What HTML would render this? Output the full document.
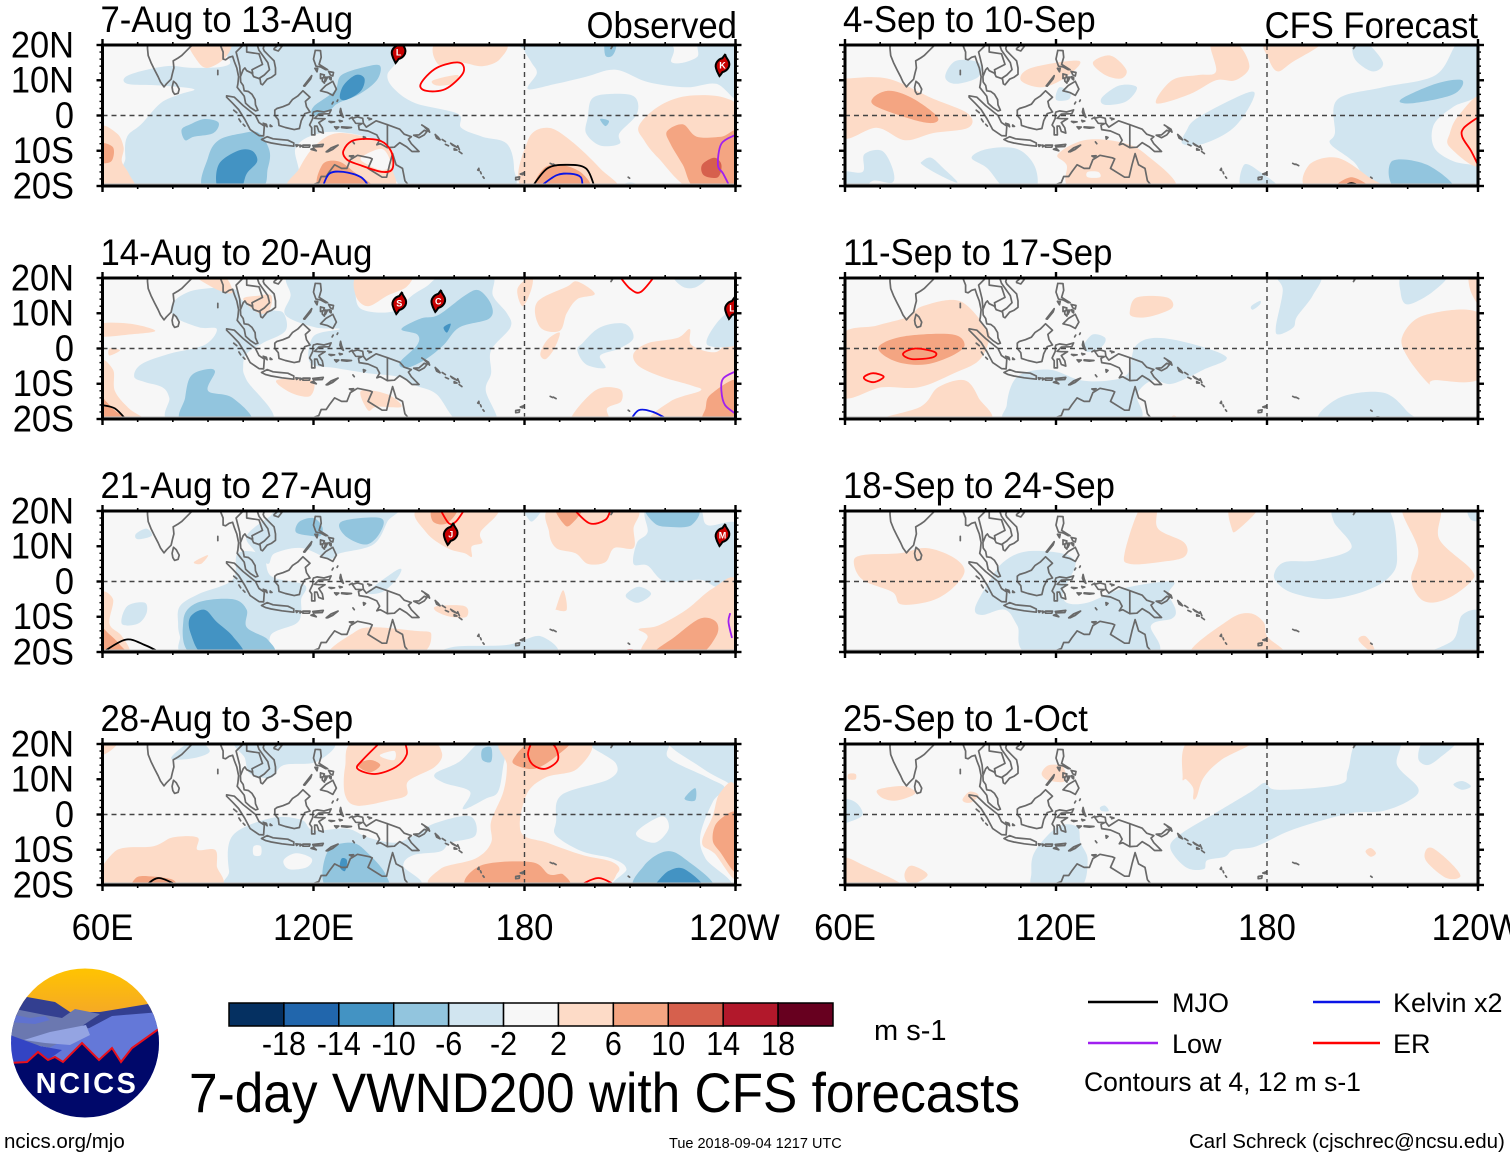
<!DOCTYPE html>
<html lang="en">
<head>
<meta charset="utf-8">
<title>7-day VWND200 with CFS forecasts</title>
<style>
html,body{margin:0;padding:0;background:#fff;width:1510px;height:1158px;overflow:hidden}
svg{display:block;font-family:"Liberation Sans",sans-serif}
</style>
</head>
<body>
<svg id="chart" xmlns="http://www.w3.org/2000/svg" width="1510" height="1158" viewBox="0 0 1510 1158">
  <rect x="0" y="0" width="1510" height="1158" fill="#fff"/>
  <g id="panels"></g>
  <g id="colorbar"></g>
  <text x="874" y="1040" font-size="29">m s-1</text>
  <text class="tall" x="189" y="1112" font-size="51.4">7-day VWND200 with CFS forecasts</text>
  <text x="4" y="1148" font-size="20.5">ncics.org/mjo</text>
  <text x="669" y="1148" font-size="14.5">Tue 2018-09-04 1217 UTC</text>
  <text x="1189" y="1148" font-size="20.5">Carl Schreck (cjschrec@ncsu.edu)</text>
  <g font-size="27">
    <line x1="1088" x2="1158" y1="1002" y2="1002" stroke="#000" stroke-width="2.4"/>
    <text x="1172" y="1012">MJO</text>
    <line x1="1313" x2="1380" y1="1002" y2="1002" stroke="#0a14e6" stroke-width="2.4"/>
    <text x="1393" y="1012">Kelvin x2</text>
    <line x1="1088" x2="1158" y1="1043" y2="1043" stroke="#a020f0" stroke-width="2.4"/>
    <text x="1172" y="1053">Low</text>
    <line x1="1313" x2="1380" y1="1043" y2="1043" stroke="#f00" stroke-width="2.4"/>
    <text x="1393" y="1053">ER</text>
    <text x="1084" y="1091" font-size="26.5">Contours at 4, 12 m s-1</text>
  </g>
  <g>
    <defs>
      <clipPath id="logoClip"><ellipse cx="85" cy="1043" rx="74" ry="74.5"/></clipPath>
      <linearGradient id="sun" x1="0" y1="0" x2="0" y2="1"><stop offset="0" stop-color="#ffc400"/><stop offset="1" stop-color="#f4a62a"/></linearGradient>
    </defs>
    <g clip-path="url(#logoClip)">
      <rect x="10" y="968" width="150" height="50" fill="url(#sun)"/>
      <path d="M10 1000 L27 997 L55 1002 L70 1012 L100 1012 L148 1004 L160 1003 L160 1040 L10 1040 Z" fill="#333f90"/>
      <path d="M10 1008 L45 1015 L62 1018 L75 1009 L100 1014 L82 1026 L100 1032 L60 1050 L10 1040 Z" fill="#6b78b0"/>
      <path d="M10 1014 L30 1018 L45 1016 L50 1020 L35 1024 L10 1022 Z" fill="#5f72d0"/>
      <path d="M78 1034 L112 1016 L160 1012 L160 1070 L20 1070 L40 1052 Z" fill="#6478d8"/>
      <path d="M24 1040 L50 1032 L86 1025 L90 1035 L70 1045 L45 1043 Z" fill="#94a4e2"/>
      <path d="M10 1035 L40 1046 L62 1050 L45 1062 L10 1066 Z" fill="#3344c4"/>
      <path d="M8 1063 L27 1062 L38 1052 L48 1060 L55 1057 L63 1062 L82 1043 L99 1060 L112 1048 L121 1062 L132 1048 L160 1028 L160 1120 L8 1120 Z" fill="#00086a"/>
      <path d="M8 1063 L27 1062 L38 1052 L48 1060 L55 1057 L63 1062 L82 1043 L99 1060 L112 1048 L121 1062 L132 1048 L160 1028" fill="none" stroke="#e8101c" stroke-width="2"/>
      <text x="87" y="1093" font-size="29" font-weight="bold" fill="#fff" text-anchor="middle" letter-spacing="2.5">NCICS</text>
    </g>
  </g>
</svg>
<script>
// Colour fill class values (m/s bins)
const levelValues = [-5,-4,-3,-2,-1,0,1,2,3,4,5];
const levelColors = ['#053061','#2166ac','#4393c3','#92c5de','#d1e5f0','#f7f7f7','#fddbc7','#f4a582','#d6604d','#b2182b','#67001f'];
const colorbarTicks = ['-18','-14','-10','-6','-2','2','6','10','14','18'];
const lonTickValues = [60,120,180,240];
const lonTickLabels = ['60E','120E','180','120W'];
const latTickValues = [20,10,0,-10,-20];
const latTickLabels = ['20N','10N','0','10S','20S'];
const panelTitles = ['7-Aug to 13-Aug','14-Aug to 20-Aug','21-Aug to 27-Aug','28-Aug to 3-Sep','4-Sep to 10-Sep','11-Sep to 17-Sep','18-Sep to 24-Sep','25-Sep to 1-Oct'];
const contourColors = {mjo:'#000',kelvin:'#0a14e6',low:'#a020f0',er:'#f00'};

// Filled anomaly regions per panel: [level, [lon,lat, lon,lat, ...]]
const fieldsAug07 = [
[-1,[98,21,142,21,144,16,141,11.5,143,7.5,149,3.5,161,.5,162,-3.5,168,-6,175,-8,177,-15,175,-21,148,-21,142,-15,142,-10,138,-7,130,-5,122,-5,115,-9,112,-21,68,-21,66.5,-12,67,-6,71,-2.5,76.5,3.5,82,6,86,7.5,76.5,8.5,67,9,67.5,11.5,78,14,86,13.5,96,14.5]],
[-1,[181,7.5,183.5,12,182,15,180,18.5,181,21,219,21,222,15,229,16.5,230,21,241,21,241,5,234.5,9,226,8,215,9.5,206,13,197.5,11,189,9]],
[-1,[199,4.5,203,6,211,5.5,212,.5,207,-5,207,-8,201.5,-8.5,197.5,-5,198,-.5]],
[-1,[206,-21,210,-19,215,-21]],
[-2,[201.5,-1,204,-1.5,203,-3]],
[-2,[203,21,206,20,205,17,203,17]],
[-2,[135.5,14,139,14,138,10,133,6,127,3.5,124.5,1.5,120,0,120,2.5,126,7,128,11.5]],
[-3,[132,11.5,134.5,10.5,133.5,7,129.5,4.5,127.5,5,128.5,8.5]],
[-2,[82.5,-4,85,-2.5,89,-1,93,-2,91.5,-5,86,-6,83.5,-7]],
[-2,[89,-21,90,-12,93,-7,100,-5,104.5,-5,107.5,-10,107,-15,104.5,-21]],
[-3,[93,-14,98.5,-10,102.5,-10,104,-13,101,-16.5,99,-21,93,-21]],
[1,[59,-4,64,-5,66,-9,65.5,-13,67.5,-16.5,69,-21,59,-21]],
[2,[59,-8,63,-9,62.5,-13,59,-13]],
[1,[85,21,96,21,95,16.5,90,13.5,87,15.5]],
[1,[155.5,21,174,21,173,16,168,14,162,15,155.5,14.5]],
[1,[154,10,161,11.5,159.5,9,155,8.5]],
[1,[114,-21,116,-15,120.5,-8.5,127,-5,138,-7,142.5,-10,142.5,-15,141,-21]],
[0,[133.5,-12,139.5,-9.5,142,-14,139.5,-15.5,135.5,-14]],
[2,[122,-21,122.5,-14,127,-13,131.5,-16,137,-21]],
[1,[180,-21,181,-7,186.5,-3.5,193,-7,201.5,-15,205.5,-21]],
[2,[183.5,-21,185.5,-15,190.5,-14,196.5,-16.5,198,-21]],
[1,[212.5,-3,218,2.5,226,5.5,237,5,241,0,241,-21,227.5,-21,218,-12,214,-7]],
[2,[220.5,-4.5,225,-2.5,229,-6,236,-6,241,-5,241,-21,229,-21,225,-14,221.5,-8]],
[3,[230.5,-14,234,-12,236,-14,235,-17.5,231,-17]]
];
const fieldsAug14 = [
[-1,[113.5,21,133,21,132,15,134,11,142.5,10.5,148,15,152,17.5,157.5,21,170.5,21,171,15,175,10,176,6,170.5,-.5,170.5,-7,169,-12,172,-21,161.5,-21,155,-13,149,-10.5,144,-8,135.5,-7,126,-5.5,119,-4,120,3.5,127.5,5.5,120.5,6,112,9.5,113.5,15]],
[-1,[69,-8,71,-4.5,79,-1.5,89,1,92.5,5.5,87.5,6,80.5,9,80,13,86,16.5,97,17,100,13.5,108,11,111.5,10,112,5,105.5,1.5,101,-1.5,100,-5,101,-9,108,-21,80,-21,79,-14,77,-11,72,-9.5]],
[1,[133,21,147,21,146.5,17.5,141,15,135.5,12,132,15]],
[1,[100,14,104.5,15,108,15,107.5,11,104.5,10]],
[1,[86,21,94,21,97,16,93,16.5]],
[1,[59.5,7,68,7,75,5,68,4,59,3.5]],
[1,[62,0,65,-.5,62,-2]],
[1,[59,-4,63,-6,63.5,-12,67.5,-17,72.5,-21,59,-21]],
[2,[59,-13,61,-15,64,-18,69,-21,59,-21]],
[1,[109.5,-9,119.5,-9,119,-13.5,113.5,-12.5]],
[1,[133.5,-12,141,-13,145,-16.5,138,-16.5,135.5,-17.5]],
[1,[137,-21,140,-19.5,146,-21]],
[1,[178,17,182,20.5,182,17,179.5,12]],
[1,[183.5,13,192,17.5,195,19,200,15.5,195,14,192,10,190,5,184.5,6]],
[1,[190,4.5,188.5,0,186,-3,184.5,-1.5,186.5,2.5]],
[1,[211,-1.5,215,1.5,223.5,3,227,5.5,227.5,1,234.5,-1,238.5,3.5,241,2.5,241,-21,216.5,-21,221.5,-15,230,-12,227.5,-10.5,219,-8,212.5,-5]],
[1,[193,-21,200,-12,207,-11.5,207.5,-15,203.5,-17,203.5,-21]],
[-1,[232,1,234.5,7,239,10,241,1.5]],
[-1,[196.5,1.5,201.5,6,208.5,7,211,3,207,0,201.5,-2,203,-5.5,197.5,-4.5,195,-.5]],
[2,[231.5,-17,233,-13,241,-9,241,-21,231,-21]],
[-1,[222.5,21,232,21,229,17.5,225,17.5]],
[-2,[145,5.5,150.5,8.5,155.5,9.5,163,15,167,16.5,170.5,12.5,170,8.5,161.5,6,157,1,152,-3,146.5,-5.5,144.5,-4,149.5,1,149.5,4]],
[-3,[157,6,159,7,158,4.5]],
[-2,[83,-21,83.5,-14,85,-8,89,-6,92,-6.5,90,-12,97,-14,102,-21]]
];
const fieldsAug21 = [
[-1,[113.5,21,142.5,21,141,17,137,10.5,127.5,8,124.5,6.5,116.5,9.5,109,8,107,5,103,9,101,13,107,18]],
[-1,[81.5,-12,82,-7,87.5,-3.5,97,.5,98.5,8,105.5,7.5,108,1.5,117.5,-1,116.5,-5,116.5,-9,115,-12,108,-15,108,-20.5,108,-21,84,-21,82,-15.5]],
[-1,[65.5,-12,67,-7,72,-6,72.5,-9,70,-12]],
[-1,[69.5,13.5,72.5,15,74,13,70,12]],
[-1,[211,5,212,11,215,14,215,21,229,21,232,16,241,16,241,1,235,-1.5,230,.5,220,0,215,4.5]],
[-1,[209,-3.5,212.5,-1.5,216,-3.5,212.5,-6,209.5,-5]],
[-1,[135.5,-3,142.5,2.5,145,3.5,143.5,.5,139.5,-3]],
[-1,[157.5,-21,160,-18.5,175,-18,184.5,-15.5,188,-21]],
[-1,[180,21,185,21,182,17]],
[-2,[115,14,116,17,120,18,122.5,15.5,122,13,119,13]],
[-2,[128,17,139,18,139,14,135,10.5,129,13]],
[-2,[215,21,229,21,227.5,16,221,15.5,217,16.5]],
[-2,[83,-11,87,-6,97,-5,101,-8,101,-13,107,-16.5,107.5,-21,86,-21]],
[-3,[85,-10,89,-8,92.5,-11.5,97,-15.5,100,-21,89,-21,85,-14.5]],
[1,[150,20.5,172,21,167.5,14,168,11,165,10,165,7,163,8,158,9.5,152,14]],
[2,[154,21,161,21,158,16.5,154,17]],
[1,[188,21,211,21,211,15,211,9.5,205.5,9.5,203,5.5,198,5,194.5,8,189,9.5,187,14]],
[2,[189,21,196.5,21,193,16,191,16.5]],
[1,[212.5,-13.5,218,-12.5,226,-8,233.5,-2,240.5,0,241,-21,215,-21,215,-15.5]],
[2,[216.5,-21,223,-15.5,230,-10.5,234.5,-11.5,234.5,-15.5,229,-21]],
[1,[59,-4,63,-5,62,-12,65.5,-15.5,67.5,-20.5,59,-21]],
[2,[59,-13,62,-15,65,-18,67,-21,59,-21]],
[1,[125,-21,131.5,-14.5,137,-13,149,-14,153.5,-15,149,-21]],
[1,[155,-7,163,-7,163.5,-10,159,-10,155,-8.5]],
[1,[189,-7.5,191,-2.5,192,-8,189,-8]],
[1,[86,5.5,90,7.5,88,5]]
];
const fieldsAug28 = [
[-1,[96,-16,97,-6,108,-1,116.5,-1.5,120,-4.5,129.5,-4,135.5,-6.5,143,-8,148.5,-6,154.5,-2.5,164.5,-.5,166,-6,159,-8,156,-10.5,148.5,-11.5,145.5,-14.5,148,-21,99,-21]],
[0,[103,-9,105,-9,105,-11.5,103,-11.5]],
[0,[111.5,-13,115,-11,119.5,-12.5,118,-15,113,-15.5]],
[-1,[99,21,125,21,121,15,111.5,14,108,10.5,102,11.5,100.5,16]],
[-1,[86,21,90.5,18,86,16,79.5,16]],
[-1,[154.5,11.5,161.5,15,167.5,20.5,175,21,174,14,172.5,6.5,169,4.5,162.5,1.5,164.5,6.5,157,9]],
[-1,[189,-2,190.5,5.5,204,10,206,14.5,198,21,219.5,21,221,16,232,10.5,237,7.5,233.5,3.5,230,-6,231.5,-12.5,238,-21,206.5,-21,209,-15.5,205,-12.5,196.5,-10.5,189,-6]],
[-1,[221,21,241,21,241,8,237,9.5,230,13.5]],
[0,[211.7,-5.3,219,-.5,221,-4,217,-8]],
[-2,[124,-10.5,131,-8,136,-11.5,140.5,-17,140,-21,124,-21]],
[-3,[128,-12.5,129.5,-13,129,-16,127.5,-15]],
[-2,[168,18.5,170.5,19,170.5,15,168,15.5]],
[-2,[212,-21,214,-14.5,220,-10.5,225.5,-12.5,233.5,-21]],
[-3,[217,-20,221,-16,225.5,-15.5,230.5,-21,216,-21]],
[-2,[225.5,4.5,228.5,7.5,228.5,4]],
[1,[132,21,152,21,156.5,17.5,154.5,13.5,147,9.5,146.5,5.5,141.5,4,132.5,2.5,129,5.5,129,13.5]],
[2,[132.5,14,136,15.5,139,14,136,12]],
[0,[139,17,143,18,143,15.5,140,16]],
[1,[174,21,198,21,195,13,186,10.5,180.5,5.5,179,-5,186.5,-8,196.5,-11.5,205,-13.5,206.5,-16.5,198,-21,156,-21,156,-15.5,166,-12.5,170.5,-8,170.5,-2,174,6.5,175,14]],
[2,[177,16,182,20.5,193,21,189,16.5,183,13,177.5,14]],
[2,[164.5,-21,167.5,-14.5,182,-13.5,187,-17,191,-17,191,-21]],
[1,[60.5,-21,63.5,-10.5,74.5,-9,80,-6.5,87,-6.5,87,-10,92,-10,92.5,-14.5,92,-21]],
[2,[69.5,-18,73,-17.5,80,-18.5,80,-21,69,-21]],
[1,[230.5,-8,233.5,-.5,235.5,6,240,7.5,241,-18,234,-11]],
[2,[233.5,-7,235,-2,241,0,241,-16.5,235.5,-10.5]],
[1,[59,21,64,20,60,17]]
];
const fieldsSep04 = [
[1,[60,10.5,72,10.5,84.5,5,95,.5,95,-3.5,85,-5,77,-7,69,-3.5,59,-6,59,10.5]],
[2,[68,5,72.5,7,79,5,86,0,85.5,-2,80.5,-1.5,69,2.5]],
[-1,[88.5,11,91.5,15.5,98,15,98,11,91.5,9]],
[1,[110,10,113,13.5,126.5,15.5,123,11,116,8]],
[-1,[120,4.5,121,8,124,6.5,123.5,4.5]],
[1,[130.5,15,135.5,17,140,13,138.5,10.5,134,11.5]],
[-1,[133,5,138,8.5,143,8,140,4,134,3]],
[1,[148.5,3.5,153,10,160.5,11.5,165.5,12.5,164,21,171,21,175,14,171,10,165.5,10,158,6]],
[1,[180,21,195.5,21,187,15,183,12.5,180.5,16]],
[-1,[157,-4.5,160.5,-.5,174.5,6.5,176,4.5,170.5,-3.5,162,-8,156,-8]],
[-1,[204.5,21,208,21,213,15,210,12.5,205,16]],
[-1,[199.3,-5,200,4.5,213,8,228,11.5,234.5,21,241,21,241,7,233,2.5,227.5,-2.5,227.5,-9,233,-13,241,-15,241,-21,213,-21,204.5,-13,198,-8]],
[-2,[218,4.5,228,9,235.5,10,233,6,221.5,3.5]],
[-2,[215.5,-13,225.5,-14,233,-21,217,-21]],
[1,[232,-5,234.5,0,241,5,241,-14,232,-9]],
[1,[192,-21,192,-14,200,-12,209,-17.5,213,-21]],
[2,[199,-21,204,-17.5,209.5,-21]],
[1,[120.5,-11,128,-7,138,-7.5,145.5,-11,153.5,-21,125.5,-21,123,-14]],
[0,[129,-16,132,-16,132.5,-17.5,129,-17.5]],
[-1,[96,-12,100.5,-9.5,109,-9.5,114,-14.5,114,-21,106,-21,100.5,-15]],
[-1,[59,-16,65,-16,65.5,-11,70.5,-10,73.5,-15,73.5,-19,68,-18.5,65,-21,59,-21]],
[-1,[82,-13,84.5,-12,88,-15,92,-19,87,-17,82,-14]],
[-1,[173,-21,173.5,-14,178,-16,183.5,-21]]
];
const fieldsSep11 = [
[1,[59,3.5,69,6.5,78,9,82,12,92.5,13.5,100,6,101,2.5,98,-3.5,91,-7,81,-11,70.5,-11,59,-13.5]],
[2,[70,1,77,3.5,90.5,4,94,1,90.5,-2,83,-4.5,75.5,-4,70.5,-1.5]],
[1,[68.5,-21,81.5,-16.5,86.5,-11,94,-9,98,-14,100,-21]],
[1,[141,10.5,143,14.5,151.5,14.5,153,11.5,146.5,9,142,9]],
[1,[218.5,3.5,225,9.5,241,9.5,241,-8,227.5,-9,226,-10,220,-2.5]],
[1,[237.5,21,241,21,241,12,238,16]],
[1,[152,-21,153.5,-19,156,-21]],
[-1,[182.5,6,184.5,16.5,183,21,195,21,193,15,188.5,9,187.5,6,183.5,4]],
[-1,[175.5,12,178,13.5,178,12.5,176,11]],
[-1,[218,16,219,21,231,21,227,16,220,12.5]],
[-1,[128,1,130.5,4,134,3,133,.5,129,-1]],
[-1,[142.5,.5,148,3,158,1.5,168.5,-2.5,162,-6,153,-10,147.5,-9,143,-13,142,-21,108,-21,106,-16,109,-8,118,-6,127,-9,135.5,-9,140.5,-7]],
[-1,[195.5,-21,200.5,-14,213,-12.5,220,-18,221,-21]]
];
const fieldsSep18 = [
[1,[62.5,5.5,65,7.5,75.5,8,83,9.5,90.5,7,94,3,90.5,-2,84.5,-5.5,76,-6.5,73.5,-3,65,.5]],
[1,[139.5,8,144,21,148.5,21,149,15,156.5,11,156.5,7,149.5,5.5,141,5]],
[1,[169.5,21,177.5,21,171.5,14.5,170,15]],
[1,[218.5,21,229,21,229,12,238,3.5,238,0,231,-5,224.5,-5.5,221,.5,223,9]],
[1,[158.5,-21,169,-11,175,-9,179,-11.5,180,-15.5,184,-21]],
[1,[206,-16.5,208,-15.5,210.5,-19,209,-19.5]],
[-1,[97,-7.5,101,0,105,5.5,111.5,8.5,121.5,8,125.5,5.5,124,1,122,-2.5,123,-6,129,-6,139,-2,153,0,152,-3.5,154,-8,153,-10.5,147,-12.5,147.5,-21,113.5,-21,109,-12.5,105.5,-8,99,-9.5]],
[-1,[182,2,185,5.5,194,6,204,9.5,199,17,200,21,214,21,217,7,214.5,1,207,-3,197,-5,188,-3.5,183.5,-1]],
[-1,[225,-21,233,-16.5,235.5,-9.5,241,-9,241,-21]],
[-1,[237,21,241,21,241,17.5,238,17.5]]
];
const fieldsSep25 = [
[1,[156,10.5,158,21,176,21,167,15.5,162,10.5,160,5,159,4.5,159,7.5,157,10]],
[1,[116,12,118,14,122,13.5,122.5,9.5,118.5,9.5,116.5,10.5]],
[1,[69,6.5,71,7.5,77,8,80,6,75,4,71,4.5]],
[1,[61,11.5,63,11.5,63,10,61,10]],
[1,[93.5,4.5,95.5,6.5,98,5.5,96,3.5,94,3.5]],
[1,[59,-12.5,65.5,-14.5,77,-21,59,-21]],
[1,[77,-16.5,79,-14.5,83.5,-17,80,-19.5,77.5,-19]],
[1,[208,-10.5,209.5,-9.5,211,-11,209.5,-12]],
[1,[225,-10.5,227,-9.5,232,-13.5,235,-17.5,231,-18,225.5,-13.5]],
[-1,[152.5,-9.5,155.5,-5.5,165.5,.5,175.5,6.5,179.5,9,183,7,200.5,8.5,203,12.5,206,21,217.5,21,217,14,223,7.5,220.5,4,213,1,204.5,.5,194.5,-2,185.5,-5,177,-9,170.5,-10,168,-12,163,-13,162,-15.5,157,-15]],
[-1,[223,16,225,21,234,21,229,16,225.5,14]],
[-1,[233,8.5,235.5,9.5,238,8,235.5,7]],
[-1,[59,4,63,3.5,65,0,61.5,-2,59,-2]],
[-1,[132.5,2,134,2.5,135,1,133,1]],
[-1,[113,-16.5,114,-10.5,120.5,-3.5,126,-3.5,127,-8,129,-13,126.5,-21,114,-21]]
];

// Wave contours per panel: [wave type, closed?, [lon,lat, ...]]
const contoursAug07 = [
['er',true,[150.5,9,155,13.5,161.5,15,162.5,12,157.5,7.5,152,7]],
['er',true,[128.5,-10,131.5,-7,138.5,-7,142,-10,142.5,-15,139.5,-16,133,-14,129.5,-12.5]],
['kelvin',false,[122.5,-20.5,124.5,-16.5,128.5,-16,133.5,-17.5,136,-20.5]],
['mjo',false,[182,-20.5,186.5,-15,192,-14,197.5,-15,200,-20.5]],
['kelvin',false,[184,-20.5,189,-17,193,-16.5,196,-17.5,196.5,-20.5]],
['low',false,[240,-5.5,236,-8,235,-14,236.5,-16.5,238.5,-20.5]]
];
const contoursAug14 = [
['mjo',false,[59.5,-16,63.5,-17,67,-20.5]],
['er',false,[207,20.5,210,17,213,16,217,20.5]],
['kelvin',false,[210,-20.5,212.5,-17.5,216.5,-18,221.5,-20.5]],
['low',false,[240,-6.5,236.5,-8.5,236,-12,237,-16,240,-18.5]]
];
const contoursAug21 = [
['er',false,[156,20.5,158.5,16.5,160.5,17,163,20.5]],
['er',false,[194,20.5,198.5,16.5,203,17.5,204.5,20.5]],
['er',false,[205.5,-20.5,210,-19.5,215,-20.5]],
['mjo',false,[59.5,-20.5,66.5,-16.5,72,-18,77,-20.5]],
['low',false,[238.5,-9,238,-11.5,239,-16]]
];
const contoursAug28 = [
['er',false,[139,20.5,134,15.5,132.5,13,137.5,11.5,143.5,13.5,146.5,17,146,20.5]],
['er',false,[182,20.5,181,17,182.5,14,186,13,189.5,15.5,188.5,19.5,185.5,20.5]],
['er',false,[195,-20.5,201,-18,206.5,-20.5]],
['mjo',false,[72,-20.5,76,-18,82,-20.5]]
];
const contoursSep04 = [
['mjo',false,[201,-20.5,204,-19.2,207.5,-20.5]],
['er',false,[240,-.5,236,-3.5,235.5,-6,238,-10,240,-14]]
];
const contoursSep11 = [
['er',true,[76.5,-1.5,80,0,85.5,-1,85,-2.5,79,-3]],
['er',true,[65.5,-8,68,-7,71,-8,68.5,-9.5,66,-9]],
['mjo',false,[208.5,-20.5,211.5,-19.5,214.5,-20.5]]
];
const contoursSep18 = [];
const contoursSep25 = [];

// Tropical cyclones per panel: [letter, lon, lat]
const stormsAug07 = [['L',144.2,18],['K',236.3,14.3]];
const stormsAug14 = [['S',144.4,12.9],['C',155.5,13.5],['L',239,11.5]];
const stormsAug21 = [['J',159,13.5],['M',236.3,13.2]];

// Coastlines and borders (lon,lat polylines)
const coastlines = [
[72.8,20,72.8,19,73,17,73.8,15,74.8,13,75.8,11,76.5,9.5,77.5,8.1,78.2,9,79.5,10.3,79.9,12,80.3,13.5,80.1,15.5,81.5,16.3,82.5,17,84,18.5,85.5,20],
[79.8,8,80.2,9.7,81,9,81.8,7.5,81.5,6.3,80.5,6,80,6.8,79.8,8],
[93.5,20,94.3,18,94.3,16,95,15.8,96,16.5,97,16.8,97.6,15,98.2,13.5,98.7,11,98.5,9,98.3,8,99.5,6.5,100.3,5.5,100.7,3.5,102,2.3,103.5,1.3,104.2,1.5,103.5,3,103.4,4.5,102.5,6,101.5,6.8,100.3,7,100,8.5,99.3,9.5,99.2,11,100,13,100.5,13.5,101,12.7,102.5,12,103,11,104.8,10.4,105,9,105.5,8.7,106.8,10.3,108,10.8,109.2,11.7,109.2,13.5,108.8,15.5,107.5,16.8,106,18.3,105.7,19,106,20],
[100,20,98,18,98.5,16,99,14,99.2,11.5],
[101,20,101,18,104.5,17.5,105.5,14.5,102.5,13,102.7,12],
[104,20,104.5,18.5,107,15,107.5,13,106,11.5,104.5,10.5],
[108.8,19,110,20,111,19.6,110,18.3,108.8,18.7,108.8,19],
[92.8,12.8,92.8,11.6],
[95.3,5.6,97.5,5.2,100,2.8,103.5,0,104.5,-2,106,-3,105.8,-5.8,104.5,-5.7,102,-4,100.4,-1,98.7,1.7,97,3.5,95.3,5.2,95.3,5.6],
[97.3,1.5,98.2,.8],[98.8,-1,99.3,-1.8],[100,-2.5,100.5,-3],
[105.7,-2.2,106.6,-2.5,106.8,-3.2,105.7,-2.2],[107.7,-2.7,108.2,-3.1,107.7,-3.1,107.7,-2.7],
[105.2,-6.8,106.8,-6,108.5,-6.6,110.5,-6.8,112.7,-7,114.4,-7.8,114.4,-8.7,111,-8.3,108,-7.8,106.4,-7.4,105.2,-6.8],
[115,-8.3,115.7,-8.4,115.2,-8.8,115,-8.3],[116.1,-8.4,116.7,-8.6,116.2,-8.9,116.1,-8.4],
[117,-8.4,119,-8.4,118.8,-9,117,-9,117,-8.4],
[119.8,-8.5,122.8,-8.2,122.5,-8.8,120,-8.9,119.8,-8.5],
[119.3,-9.6,120.8,-10,120,-9.3,119.3,-9.6],
[123.6,-10.3,125,-9.2,127,-8.4,125.5,-9.6,124,-10.3,123.6,-10.3],
[109,1.5,109.6,2,111.3,2.5,113,3.2,114,4.5,115.5,5.5,117,7,119,5.2,117.7,4,118,2.5,119,1,117.5,.5,116.5,-1.5,116,-3.7,114.5,-4,112,-3.4,110.2,-2.8,110,-1.2,109,0,109,1.5],
[120,1,121,1.3,123,1,125,1.6,124.5,.5,121.5,.4,120.3,-.8,121.5,-.9,123.3,-.9,122,-1.7,121.5,-2,122.5,-3.5,122.8,-5,121.5,-4.5,121,-3,120.3,-3,120.4,-5.5,119.5,-5.5,119.5,-3.5,118.9,-2.7,119.8,-.8,119.8,.5,120,1],
[127.7,2,128,.8,128.5,-.5,127.9,0,127.5,1,127.7,2],
[128,-3.2,130.8,-3.4,129.5,-3.6,128,-3.4,128,-3.2],[126,-3.2,127.2,-3.3,126.5,-3.8,126,-3.2],
[127.3,-1.4,128.2,-1.6,127.5,-1.8,127.3,-1.4],[124.4,-1.7,126,-1.8,125,-2,124.4,-1.7],
[134.2,-6,134.8,-6.2,134.3,-6.7,134.2,-6],[131.2,-7.5,131.6,-8],
[125.3,3.3,125.6,3.8],[126.7,4,126.9,4.4],
[131,-.8,132.5,-.4,134,-.8,134.2,-2.2,135,-3.3,137.8,-1.5,141,-2.6,144.5,-3.9,145.8,-5.3,147.8,-6,147,-6.7,147.8,-8,150,-10.2,148,-10.2,146.5,-8.9,144.5,-7.7,143,-9,141,-9.1,139,-8,138,-8.3,138.8,-7,138,-5.5,135.5,-4.4,133,-4,132.8,-2.8,133.8,-2.3,132,-2.2,131,-.8],
[141,-2.6,141,-9.1],
[135.4,-.7,136.5,-1,135.8,-1.2],[130.2,-.9,131,-.5],
[148.5,-5.6,150,-5.5,151.5,-4.2,152.3,-4.5,151.5,-5.5,150,-6.3,148.5,-5.6],
[150.8,-2.7,152.7,-3.9,153,-4.7,151.5,-3.2],
[154.6,-5.4,155.5,-6.2,156,-6.9,155,-6.4,154.6,-5.4],
[156.6,-6.8,157.5,-7.4],[157.5,-8.2,158.4,-8.6],[159,-7.9,160.8,-9,159.5,-8.4,159,-7.9],[160,-9.4,160.8,-9.8,160,-9.8,160,-9.4],[161,-8.6,161.5,-9.7],[161.4,-10.2,162.2,-10.8],
[167,-15,167.1,-15.6,166.7,-15.5,167,-15],[167.5,-16,167.7,-16.5],[168.2,-17.4,168.5,-17.8],
[177.5,-17.6,178.6,-17.4,178.5,-18.1,177.5,-18.2,177.5,-17.6],[178.8,-16.6,179.9,-16.2,179.5,-16.8,178.8,-16.6],
[187.3,-13.6,188,-13.9],[189,-14.2,188.2,-13.8],
[204.5,19.8,205,19.6,204.6,19],[209.5,-17.5,209.9,-17.8],
[120.5,18.5,122,18.4,122.2,16.5,121.6,14.5,124,13,123.5,13,122,13.8,120.7,14,120,16,120.5,18.5],
[120.4,13.4,121.2,13.4,121,12.4,120.4,13.4],
[117.2,8.4,119.5,11.3,119.2,10.4,117.5,8.3,117.2,8.4],
[124.3,12.5,125.7,12.2,125.5,11.2,124.8,11.5,124.3,12.5],[124.4,11,125,10.8,125,10.1,124.6,10.4,124.4,11],
[122,11.8,123.1,11.5,122.8,10.7,122,10.5,122,11.8],[122.5,10.6,123.4,10.9,123.1,9.2,122.5,9.8,122.5,10.6],[123.5,10.8,124,10.9,123.4,9.7],
[122,7,123.5,8.5,125.5,9.7,126.5,7.5,125.5,5.7,124,6.5,122,7],
[118.8,-20,121.5,-19,122.2,-17.3,123.6,-17.3,124.5,-16,126,-14,128,-15,129.5,-15,130.5,-12.5,132.5,-11.3,136,-12,136.7,-12.3,135.5,-15,139.5,-17.5,140.8,-17.5,141.6,-14,142.5,-10.8,143.5,-14,145.3,-15,146,-18.5,147.2,-20],
[130.2,-11.5,131.4,-11.4,130.8,-11.8,130.2,-11.5]
];

const fieldsByPanel = [fieldsAug07,fieldsAug14,fieldsAug21,fieldsAug28,fieldsSep04,fieldsSep11,fieldsSep18,fieldsSep25];
const contoursByPanel = [contoursAug07,contoursAug14,contoursAug21,contoursAug28,contoursSep04,contoursSep11,contoursSep18,contoursSep25];
const stormsByPanel = [stormsAug07,stormsAug14,stormsAug21,[],[],[],[],[]];

const SVGNS = 'http://www.w3.org/2000/svg';
const PLOT_W = 633, PLOT_H = 141;
const tops = [45,278,511,744];
const lefts = [102.5,845];

function xScale(lon,left){ return left + (lon-60)/180*PLOT_W; }
function yScale(lat,top){ return top + (20-lat)/40*PLOT_H; }

function mk(tag,parent,attrs){
  const el = document.createElementNS(SVGNS,tag);
  for(const k in attrs){ el.setAttribute(k,attrs[k]); }
  parent.appendChild(el);
  return el;
}

function toPts(arr,left,top){
  const p = [];
  for(let i=0;i+1<arr.length;i+=2){ p.push([xScale(arr[i],left),yScale(arr[i+1],top)]); }
  return p;
}

function smoothPath(p,closed){
  const n = p.length;
  const at = i => closed ? p[(i+n)%n] : p[Math.max(0,Math.min(n-1,i))];
  let d = 'M'+p[0][0].toFixed(1)+' '+p[0][1].toFixed(1);
  const segs = closed ? n : n-1;
  for(let i=0;i<segs;i++){
    const a=at(i-1),b=at(i),c=at(i+1),e=at(i+2);
    const c1x=b[0]+(c[0]-a[0])/6,c1y=b[1]+(c[1]-a[1])/6,c2x=c[0]-(e[0]-b[0])/6,c2y=c[1]-(e[1]-b[1])/6;
    d+='C'+c1x.toFixed(1)+' '+c1y.toFixed(1)+' '+c2x.toFixed(1)+' '+c2y.toFixed(1)+' '+c[0].toFixed(1)+' '+c[1].toFixed(1);
  }
  return d+(closed?'Z':'');
}

const root = document.getElementById('panels');
const defs = mk('defs',root,{});

function drawPanel(idx){
  const col = idx<4?0:1, row = idx%4;
  const left = lefts[col], top = tops[row];
  const g = mk('g',root,{});
  
  

  const cp = mk('clipPath',defs,{id:'clip'+idx});
  mk('rect',cp,{x:left,y:top,width:PLOT_W,height:PLOT_H});

  const plot = mk('g',g,{'clip-path':'url(#clip'+idx+')'});
  
  

  const bg = mk('rect',plot,{x:left,y:top,width:PLOT_W,height:PLOT_H,fill:levelColors[5]});
  
  

  fieldsByPanel[idx].forEach(f=>{
    const color = levelColors[levelValues.indexOf(f[0])];
    const path = mk('path',plot,{d:smoothPath(toPts(f[1],left,top),true),fill:color});
    
    
  });

  coastlines.forEach(c=>{
    const pts = toPts(c,left,top).map(q=>q[0].toFixed(1)+','+q[1].toFixed(1)).join(' ');
    const line = mk('polyline',plot,{points:pts,fill:'none',stroke:'#696969','stroke-width':1.7,'stroke-linejoin':'round','stroke-linecap':'round'});
    
    
  });

  const eq = mk('line',plot,{x1:left,x2:left+PLOT_W,y1:yScale(0,top),y2:yScale(0,top),stroke:'#444','stroke-width':1.4,'stroke-dasharray':'5 4'});
  
  
  const dl = mk('line',plot,{x1:xScale(180,left),x2:xScale(180,left),y1:top,y2:top+PLOT_H,stroke:'#444','stroke-width':1.4,'stroke-dasharray':'5 4'});
  
  

  contoursByPanel[idx].forEach(c=>{
    const path = mk('path',plot,{d:smoothPath(toPts(c[2],left,top),c[1]),fill:'none',stroke:contourColors[c[0]],'stroke-width':1.8});
    
    
  });

  stormsByPanel[idx].forEach(s=>{
    const sg = mk('g',plot,{transform:'translate('+xScale(s[1],left).toFixed(1)+' '+yScale(s[2],top).toFixed(1)+')'});
    
    
    mk('path',sg,{d:'M3 -11C2 -9 5 -7 6.5 -3C8 2 4 6 0 7C-1 8.5 -2 10 -3 11C-4 9 -5.5 7 -6.5 3C-8 -2 -4 -6 0 -7C1 -8.5 2 -10 3 -11Z',fill:'#c80000',stroke:'#000','stroke-width':2});
    const lab = mk('text',sg,{x:0,y:3.5,'font-size':9,'font-weight':'bold',fill:'#fff','text-anchor':'middle'});
    lab.textContent = s[0];
  });

  // faint grey under-line at the bottom of the frame
  mk('line',g,{x1:left,x2:left+PLOT_W,y1:top+PLOT_H-2,y2:top+PLOT_H-2,stroke:'#bbb','stroke-width':1});

  const frame = mk('rect',g,{x:left,y:top,width:PLOT_W,height:PLOT_H,fill:'none',stroke:'#000','stroke-width':3});
  
  

  // longitude ticks
  for(let lon=60;lon<=240;lon+=10){
    const major = lonTickValues.indexOf(lon)>=0;
    const xx = xScale(lon,left), len = major?6:3;
    mk('line',g,{x1:xx,x2:xx,y1:top-len,y2:top,stroke:'#000','stroke-width':major?2.4:1.6});
    mk('line',g,{x1:xx,x2:xx,y1:top+PLOT_H,y2:top+PLOT_H+len,stroke:'#000','stroke-width':major?2.4:1.6});
  }
  // latitude ticks
  for(let lat=-20;lat<=20;lat+=2){
    const major = lat%10===0;
    const yy = yScale(lat,top), len = major?6:3;
    mk('line',g,{x1:left-len,x2:left,y1:yy,y2:yy,stroke:'#000','stroke-width':major?2.4:1.4});
    mk('line',g,{x1:left+PLOT_W,x2:left+PLOT_W+len,y1:yy,y2:yy,stroke:'#000','stroke-width':major?2.4:1.4});
  }

  const title = mk('text',g,{x:left-2,y:top-13,'font-size':34.7,'class':'tall'});
  
  
  title.textContent = panelTitles[idx];

  if(col===0){
    latTickValues.forEach((v,i)=>{
      const t = mk('text',g,{x:74,y:yScale(v,top)+12.5,'font-size':34.4,'text-anchor':'end','class':'tall'});
      
      
      t.textContent = latTickLabels[i];
    });
  }
  if(row===3){
    lonTickValues.forEach((v,i)=>{
      const t = mk('text',g,{x:xScale(v,left)-(v===240?1:0),y:940,'font-size':34.7,'text-anchor':'middle','class':'tall'});
      
      
      t.textContent = lonTickLabels[i];
    });
  }
}

for(let i=0;i<8;i++){ drawPanel(i); }

const hObs = mk('text',root,{x:737,y:38,'font-size':34.7,'text-anchor':'end','class':'tall'});


hObs.textContent = 'Observed';
const hFc = mk('text',root,{x:1478,y:38,'font-size':34.6,'text-anchor':'end','class':'tall'});


hFc.textContent = 'CFS Forecast';

// colour bar
const cb = document.getElementById('colorbar');
const CB_X = 229, CB_Y = 1003, CB_W = 604, CB_H = 23;
const boxW = CB_W/levelColors.length;
levelColors.forEach((c,i)=>{
  const r = mk('rect',cb,{x:CB_X+i*boxW,y:CB_Y,width:boxW,height:CB_H,fill:c,stroke:'#000','stroke-width':1.5});
  
  
});
colorbarTicks.forEach((label,i)=>{
  const t = mk('text',cb,{x:CB_X+(i+1)*boxW,y:1055,'font-size':30.5,'text-anchor':'middle','class':'tall'});
  
  
  t.textContent = label;
});

// The original font is a touch taller than Liberation Sans at equal advance width
document.querySelectorAll('text.tall').forEach(t=>{
  const base = t.getAttribute('y');
  t.setAttribute('transform','translate(0 '+base+') scale(1 1.08) translate(0 '+(-base)+')');
});
</script>
</body>
</html>
